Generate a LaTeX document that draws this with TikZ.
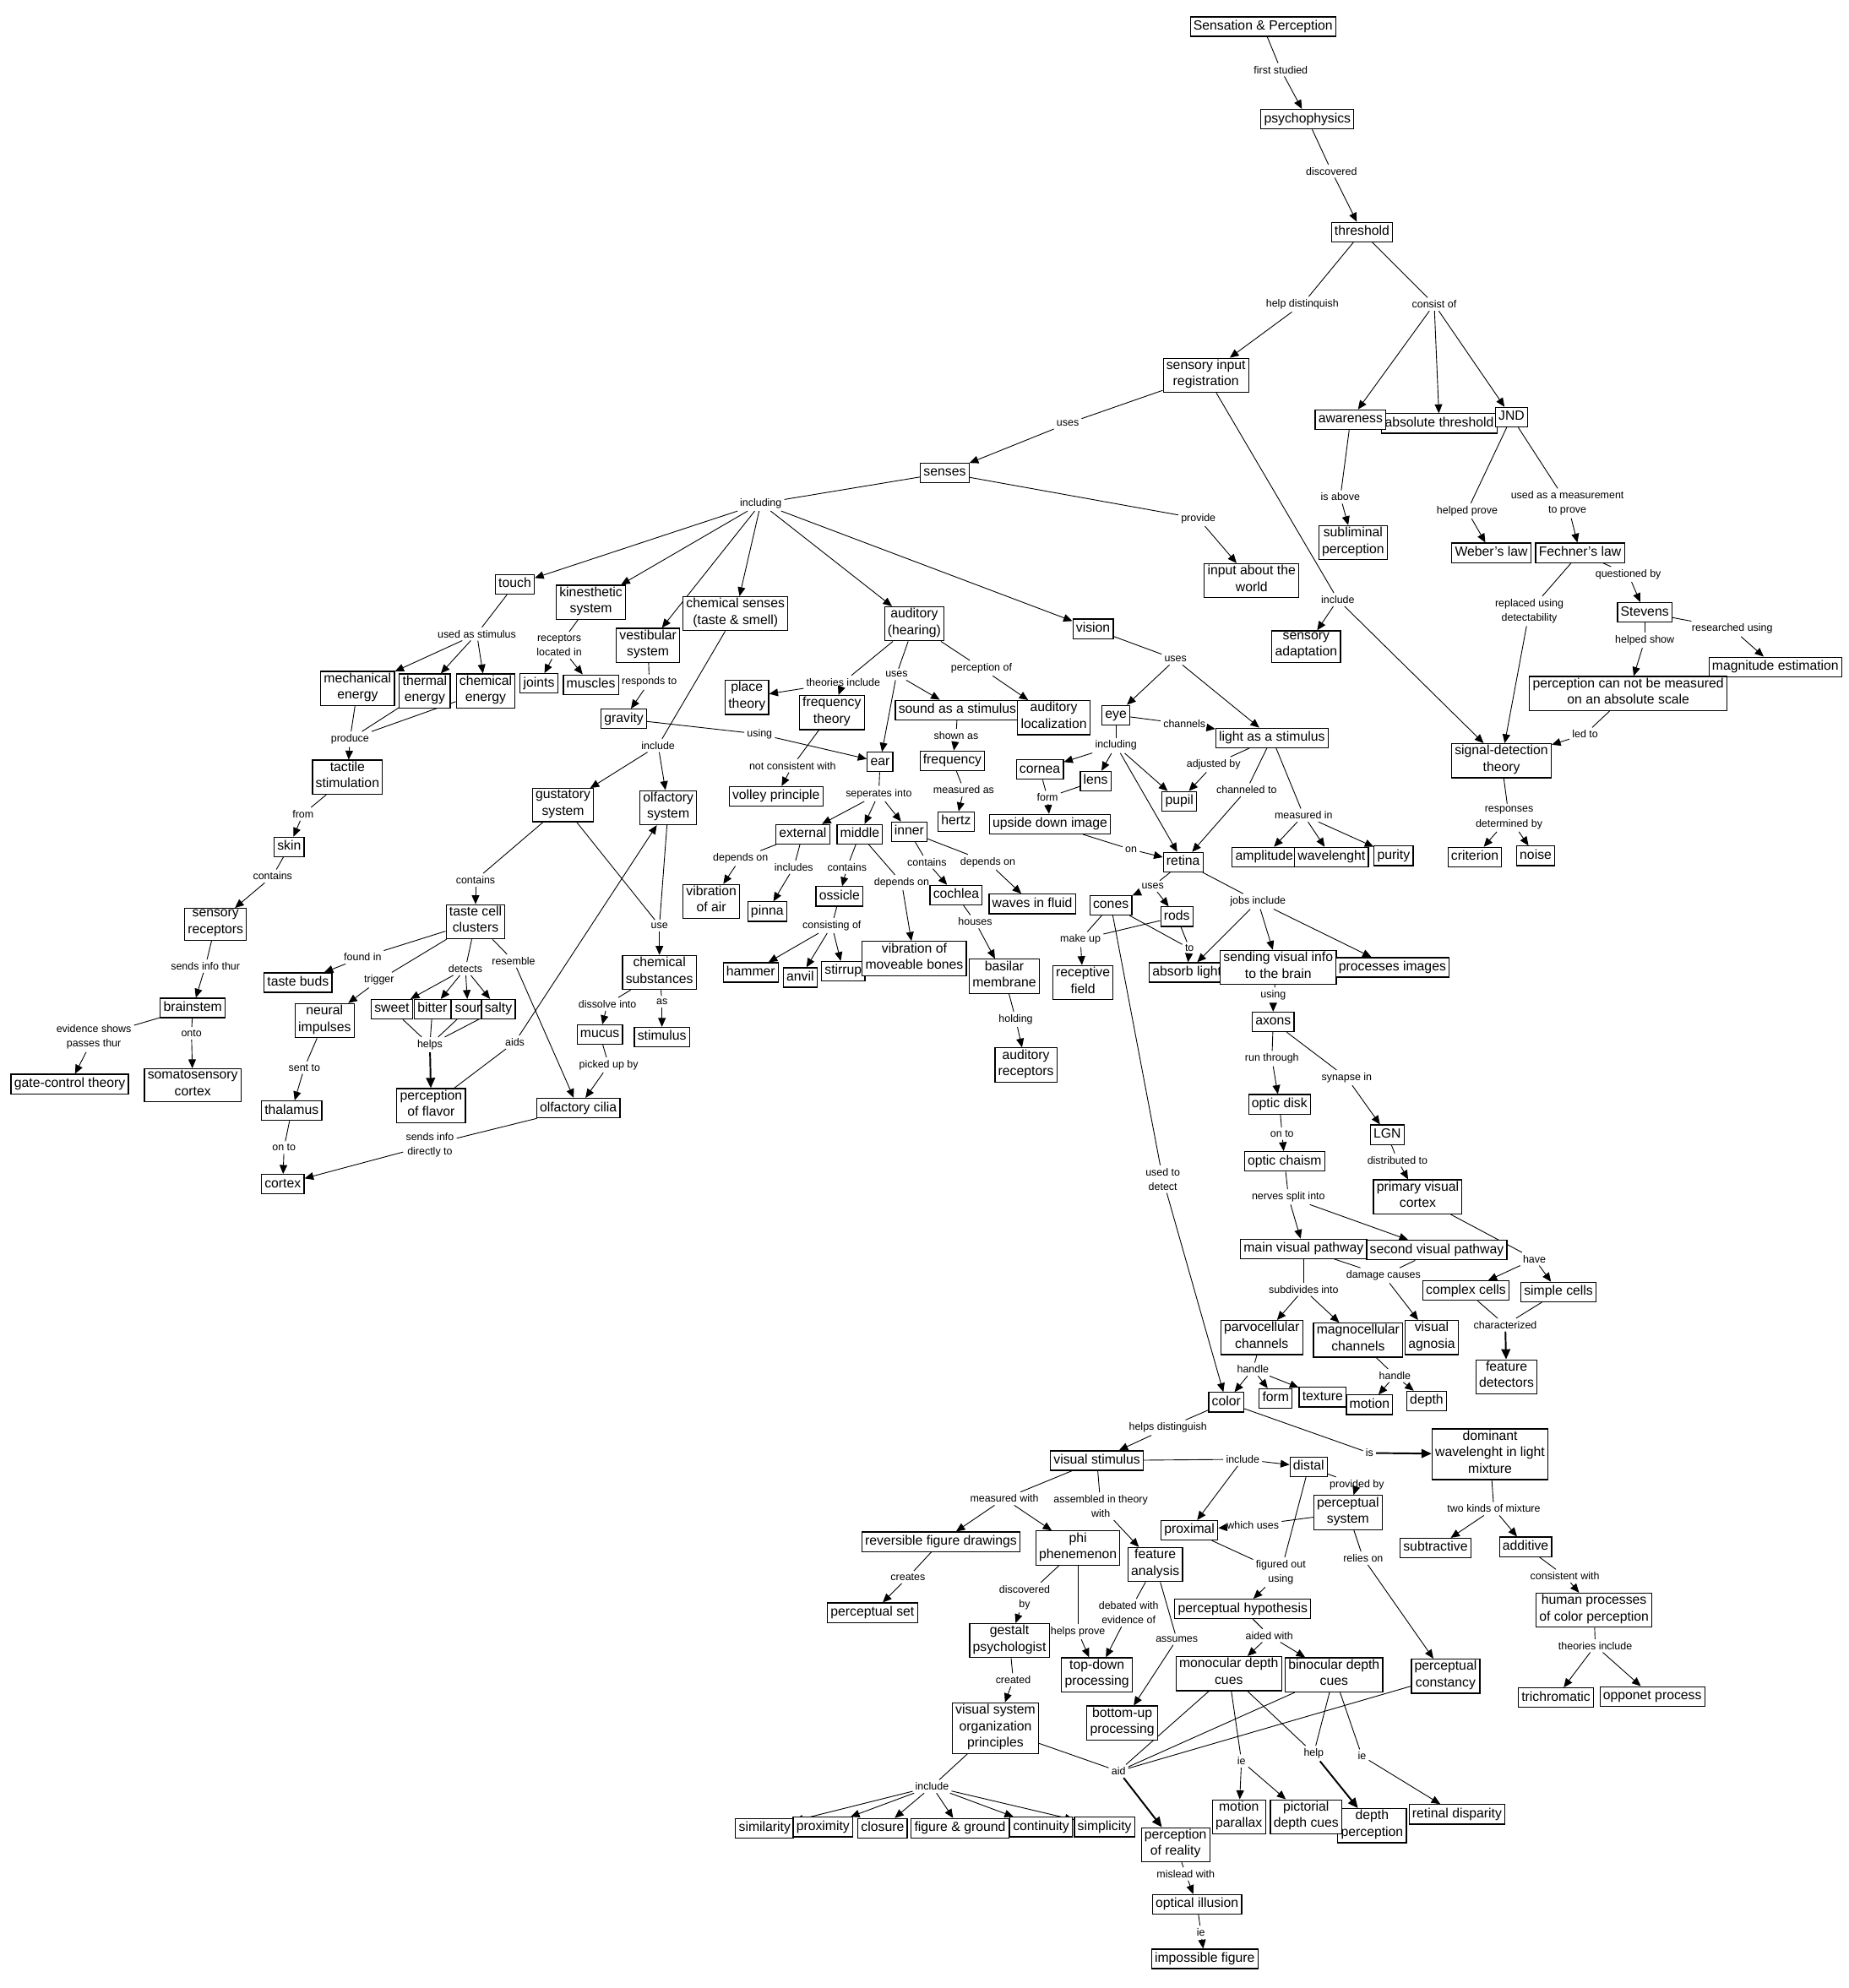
\documentclass[tikz,border=0pt]{standalone}
\usepackage{fontspec}
\setmainfont{Liberation Sans}
\usetikzlibrary{arrows.meta}
\pgfdeclarelayer{bg}
\pgfsetlayers{bg,main}
\tikzset{
  box/.style={draw, fill=white, line width=0.8pt, font=\fontsize{10.5}{13}\selectfont, align=center,
    inner xsep=2.5pt, inner ysep=1.2pt, execute at begin node=\strut, execute at end node=\strut},
  lbl/.style={font=\fontsize{8.3}{11.5}\selectfont, align=center, inner sep=2pt},
  ln/.style={line width=0.6pt},
  ar/.style={line width=0.6pt, -{Triangle[length=7pt,width=6pt]}},
  bar/.style={line width=1.3pt, -{Triangle[length=8pt,width=7pt]}},
}
\newcommand\cm[4][ar]{\foreach \s in {#2} {\draw[ln] (\s) -- (#3);}\foreach \t in {#4} {\draw[#1] (#3) -- (\t);}}
\begin{document}
\begin{tikzpicture}[x=1pt,y=-1pt]
\useasboundingbox (0,0) rectangle (1458,1568);
% ---------- concept boxes ----------
\node[box] (SP) at (996,21) {Sensation \& Perception};
\node[box] (psy) at (1031,94) {psychophysics};
\node[box] (thr) at (1074,183) {threshold};
\node[box] (sir) at (951,296) {sensory input\\registration};
\node[box] (abs) at (1135,334) {absolute threshold};
\node[box] (awa) at (1065,331) {awareness};
\node[box] (jnd) at (1192,329) {JND};
\node[box] (sen) at (745,373) {senses};
\node[box] (sub) at (1067,428) {subliminal\\perception};
\node[box] (web) at (1176,436) {Weber's law};
\node[box] (fec) at (1246,436) {Fechner's law};
\node[box] (inp) at (987,458) {input about the\\world};
\node[box] (tou) at (406,461) {touch};
\node[box] (kin) at (466,475) {kinesthetic\\system};
\node[box] (che) at (580,484) {chemical senses\\(taste \& smell)};
\node[box] (aud) at (721,492) {auditory\\(hearing)};
\node[box] (vis) at (862,496) {vision};
\node[box] (ves) at (511,509) {vestibular\\system};
\node[box] (ada) at (1030,510) {sensory\\adaptation};
\node[box] (ste) at (1297,483) {Stevens};
\node[box] (mag) at (1400,526) {magnitude estimation};
\node[box] (mec) at (282,543) {mechanical\\energy};
\node[box] (the) at (335,545) {thermal\\energy};
\node[box] (cen) at (383,545) {chemical\\energy};
\node[box] (joi) at (425,539) {joints};
\node[box] (mus) at (466,540) {muscles};
\node[box] (pcn) at (1284,547) {perception can not be measured\\on an absolute scale};
\node[box] (pla) at (589,550) {place\\theory};
\node[box] (fth) at (656,562) {frequency\\theory};
\node[box] (sou) at (755,560) {sound as a stimulus};
\node[box] (loc) at (831,566) {auditory\\localization};
\node[box] (gra) at (492,567) {gravity};
\node[box] (eye) at (880,564) {eye};
\node[box] (lig) at (1003,582) {light as a stimulus};
\node[box] (sdt) at (1184,600) {signal-detection\\theory};
\node[box] (tac) at (274,613) {tactile\\stimulation};
\node[box] (fre) at (751,600) {frequency};
\node[box] (ear) at (694,601) {ear};
\node[box] (cor) at (820,607) {cornea};
\node[box] (len) at (864,616) {lens};
\node[box] (pup) at (930,632) {pupil};
\node[box] (gus) at (444,635) {gustatory\\system};
\node[box] (olf) at (527,637) {olfactory\\system};
\node[box] (vol) at (612,628) {volley principle};
\node[box] (ups) at (828,650) {upside down image};
\node[box] (her) at (754,648) {hertz};
\node[box] (ext) at (633,658) {external};
\node[box] (mid) at (678,658) {middle};
\node[box] (inn) at (717,656) {inner};
\node[box] (ski) at (228,668) {skin};
\node[box] (amp) at (997,676) {amplitude};
\node[box] (wav) at (1050,676) {wavelenght};
\node[box] (pur) at (1099,675) {purity};
\node[box] (ret) at (933,680) {retina};
\node[box] (cri) at (1163,676) {criterion};
\node[box] (noi) at (1211,675) {noise};
\node[box] (voa) at (561,711) {vibration\\of air};
\node[box] (pin) at (605,719) {pinna};
\node[box] (oss) at (662,707) {ossicle};
\node[box] (coc) at (754,706) {cochlea};
\node[box] (wif) at (814,713) {waves in fluid};
\node[box] (con) at (876,714) {cones};
\node[box] (rod) at (928,723) {rods};
\node[box] (sre) at (170,729) {sensory\\receptors};
\node[box] (tcc) at (375,727) {taste cell\\clusters};
\node[box] (ham) at (592,767) {hammer};
\node[box] (anv) at (631,771) {anvil};
\node[box] (sti) at (665,766) {stirrup};
\node[box] (vmb) at (721,756) {vibration of\\moveable bones};
\node[box] (bas) at (792,770) {basilar\\membrane};
\node[box] (rec) at (854,775) {receptive\\field};
\node[box] (abl) at (936,767) {absorb light};
\node[box] (svi) at (1008,763) {sending visual info\\to the brain};
\node[box] (pim) at (1098,763) {processes images};
\node[box] (tbu) at (235,775) {taste buds};
\node[box] (csu) at (520,767) {chemical\\substances};
\node[box] (neu) at (256,805) {neural\\impulses};
\node[box] (swe) at (309,796) {sweet};
\node[box] (bit) at (341,796) {bitter};
\node[box] (sor) at (369,796) {sour};
\node[box] (sal) at (393,796) {salty};
\node[box] (bra) at (152,795) {brainstem};
\node[box] (axo) at (1004,806) {axons};
\node[box] (stm) at (522,818) {stimulus};
\node[box] (muc) at (473,816) {mucus};
\node[box] (are) at (809,840) {auditory\\receptors};
\node[box] (gct) at (55,855) {gate-control theory};
\node[box] (som) at (152,856) {somatosensory\\cortex};
\node[box] (pof) at (340,872) {perception\\of flavor};
\node[box] (oci) at (456,874) {olfactory cilia};
\node[box] (tha) at (230,876) {thalamus};
\node[box] (odi) at (1009,871) {optic disk};
\node[box] (lgn) at (1094,895) {LGN};
\node[box] (och) at (1013,916) {optic chaism};
\node[box] (ctx) at (223,934) {cortex};
\node[box] (pvc) at (1118,944) {primary visual\\cortex};
\node[box] (mvp) at (1028,985) {main visual pathway};
\node[box] (svp) at (1133,986) {second visual pathway};
\node[box] (cce) at (1156,1018) {complex cells};
\node[box] (sce) at (1229,1019) {simple cells};
\node[box] (par) at (995,1055) {parvocellular\\channels};
\node[box] (mgc) at (1071,1057) {magnocellular\\channels};
\node[box] (vag) at (1129,1055) {visual\\agnosia};
\node[box] (fde) at (1188,1086) {feature\\detectors};
\node[box] (for) at (1006,1103) {form};
\node[box] (tex) at (1043,1102) {texture};
\node[box] (mot) at (1080,1108) {motion};
\node[box] (dep) at (1125,1105) {depth};
\node[box] (col) at (967,1106) {color};
\node[box] (dom) at (1175,1147) {dominant\\wavelenght in light\\mixture};
\node[box] (vst) at (865,1152) {visual stimulus};
\node[box] (dis) at (1032,1157) {distal};
\node[box] (psys) at (1063,1193) {perceptual\\system};
\node[box] (sbt) at (1132,1221) {subtractive};
\node[box] (add) at (1203,1220) {additive};
\node[box] (pro) at (938,1207) {proximal};
\node[box] (rfd) at (742,1216) {reversible figure drawings};
\node[box] (phi) at (850,1221) {phi\\phenemenon};
\node[box] (fan) at (911,1234) {feature\\analysis};
\node[box] (phy) at (980,1269) {perceptual hypothesis};
\node[box] (hpc) at (1257,1270) {human processes\\of color perception};
\node[box] (pse) at (688,1272) {perceptual set};
\node[box] (ges) at (796,1294) {gestalt\\psychologist};
\node[box] (tdp) at (865,1321) {top-down\\processing};
\node[box] (mdc) at (969,1320) {monocular depth\\cues};
\node[box] (bdc) at (1052,1321) {binocular depth\\cues};
\node[box] (pco) at (1140,1322) {perceptual\\constancy};
\node[box] (tri) at (1227,1339) {trichromatic};
\node[box] (opp) at (1303,1338) {opponet process};
\node[box] (bup) at (885,1359) {bottom-up\\processing};
\node[box] (vso) at (785,1363) {visual system\\organization\\principles};
\node[box] (sim) at (603,1442) {similarity};
\node[box] (prx) at (649,1441) {proximity};
\node[box] (clo) at (696,1442) {closure};
\node[box] (fig) at (757,1442) {figure \& ground};
\node[box] (cnt) at (821,1441) {continuity};
\node[box] (smp) at (871,1441) {simplicity};
\node[box] (por) at (927,1455) {perception\\of reality};
\node[box] (dpe) at (1082,1440) {depth\\perception};
\node[box] (mpa) at (977,1433) {motion\\parallax};
\node[box] (pdc) at (1030,1433) {pictorial\\depth cues};
\node[box] (rdi) at (1149,1431) {retinal disparity};
\node[box] (oil) at (944,1502) {optical illusion};
\node[box] (imp) at (950,1545) {impossible figure};
% ---------- link labels ----------
\node[lbl] (Lfs) at (1010,55) {first studied};
\node[lbl] (Ldis) at (1050,135) {discovered};
\node[lbl] (Lhd) at (1027,240) {help distinquish};
\node[lbl] (Lco) at (1131,240) {consist of};
\node[lbl] (Luses1) at (842,334) {uses};
\node[lbl] (Linc1) at (600,397) {including};
\node[lbl] (Lprov) at (945,409) {provide};
\node[lbl] (Lia) at (1057,392) {is above};
\node[lbl] (Lhp) at (1157,403) {helped prove};
\node[lbl] (Luam) at (1236,397) {used as a measurement\\to prove};
\node[lbl] (Linc2) at (1055,473) {include};
\node[lbl] (Lqb) at (1284,453) {questioned by};
\node[lbl] (Lrud) at (1206,482) {replaced using\\detectability};
\node[lbl] (Lru) at (1366,496) {researched using};
\node[lbl] (Lhs) at (1297,505) {helped show};
\node[lbl] (Luas) at (376,500) {used as stimulus};
\node[lbl] (Lrli) at (441,509) {receptors\\located in};
\node[lbl] (Lrt) at (512,538) {responds to};
\node[lbl] (Lti) at (665,538) {theories include};
\node[lbl] (Luses2) at (707,532) {uses};
\node[lbl] (Lpo) at (774,527) {perception of};
\node[lbl] (Luses3) at (927,520) {uses};
\node[lbl] (Lprod) at (276,583) {produce};
\node[lbl] (Lusing1) at (599,579) {using};
\node[lbl] (Linc3) at (519,588) {include};
\node[lbl] (Lsa) at (754,580) {shown as};
\node[lbl] (Lch) at (934,571) {channels};
\node[lbl] (Linc4) at (880,588) {including};
\node[lbl] (Lab) at (957,603) {adjusted by};
\node[lbl] (Lcht) at (983,623) {channeled to};
\node[lbl] (Lled) at (1250,579) {led to};
\node[lbl] (Lncw) at (625,604) {not consistent with};
\node[lbl] (Lma) at (760,623) {measured as};
\node[lbl] (Lform) at (826,629) {form};
\node[lbl] (Lsi) at (693,626) {seperates into};
\node[lbl] (Lon) at (892,670) {on};
\node[lbl] (Lmi) at (1028,643) {measured in};
\node[lbl] (Lrdb) at (1190,645) {responses\\determined by};
\node[lbl] (Lfrom) at (239,642) {from};
\node[lbl] (Lcont1) at (215,691) {contains};
\node[lbl] (Ldo1) at (584,677) {depends on};
\node[lbl] (Lincs) at (626,684) {includes};
\node[lbl] (Lcont2) at (668,684) {contains};
\node[lbl] (Lcont3) at (731,680) {contains};
\node[lbl] (Ldo2) at (779,680) {depends on};
\node[lbl] (Ldo3) at (711,696) {depends on};
\node[lbl] (Luses4) at (909,699) {uses};
\node[lbl] (Lji) at (992,711) {jobs include};
\node[lbl] (Lcont4) at (375,694) {contains};
\node[lbl] (Luse) at (520,730) {use};
\node[lbl] (Lcof) at (656,730) {consisting of};
\node[lbl] (Lhou) at (769,727) {houses};
\node[lbl] (Lmu) at (852,741) {make up};
\node[lbl] (Lto) at (938,748) {to};
\node[lbl] (Lsit) at (162,762) {sends info thur};
\node[lbl] (Lfi) at (286,755) {found in};
\node[lbl] (Ltrig) at (299,773) {trigger};
\node[lbl] (Ldet) at (367,764) {detects};
\node[lbl] (Lres) at (405,758) {resemble};
\node[lbl] (Las) at (522,790) {as};
\node[lbl] (Ldi) at (479,792) {dissolve into};
\node[lbl] (Lusing2) at (1004,785) {using};
\node[lbl] (Lesp) at (74,818) {evidence shows\\passes thur};
\node[lbl] (Lonto) at (151,815) {onto};
\node[lbl] (Lhelps) at (339,824) {helps};
\node[lbl] (Laids) at (406,822) {aids};
\node[lbl] (Lhold) at (801,804) {holding};
\node[lbl] (Lpub) at (480,840) {picked up by};
\node[lbl] (Lrth) at (1003,835) {run through};
\node[lbl] (Lsyn) at (1062,850) {synapse in};
\node[lbl] (Lsent) at (240,842) {sent to};
\node[lbl] (Lonto2) at (224,905) {on to};
\node[lbl] (Lsid) at (339,903) {sends info\\directly to};
\node[lbl] (Lonto3) at (1011,894) {on to};
\node[lbl] (Ldt) at (1102,915) {distributed to};
\node[lbl] (Lutd) at (917,930) {used to\\detect};
\node[lbl] (Lnsi) at (1016,944) {nerves split into};
\node[lbl] (Lhave) at (1210,993) {have};
\node[lbl] (Ldc) at (1091,1006) {damage causes};
\node[lbl] (Lsubd) at (1028,1017) {subdivides into};
\node[lbl] (Lchar) at (1187,1045) {characterized};
\node[lbl] (Lhan1) at (988,1080) {handle};
\node[lbl] (Lhan2) at (1100,1085) {handle};
\node[lbl] (Lhdi) at (921,1126) {helps distinguish};
\node[lbl] (Lis) at (1080,1146) {is};
\node[lbl] (Linc5) at (980,1151) {include};
\node[lbl] (Lmw) at (792,1182) {measured with};
\node[lbl] (Lait) at (868,1188) {assembled in theory\\with};
\node[lbl] (Lpb) at (1070,1171) {provided by};
\node[lbl] (Ltkm) at (1178,1190) {two kinds of mixture};
\node[lbl] (Lwu) at (988,1203) {which uses};
\node[lbl] (Lcre) at (716,1244) {creates};
\node[lbl] (Lfou) at (1010,1240) {figured out\\using};
\node[lbl] (Lro) at (1075,1229) {relies on};
\node[lbl] (Lcw) at (1234,1243) {consistent with};
\node[lbl] (Ldb) at (808,1260) {discovered\\by};
\node[lbl] (Ldwe) at (890,1272) {debated with\\evidence of};
\node[lbl] (Lhpr) at (850,1287) {helps prove};
\node[lbl] (Lass) at (928,1293) {assumes};
\node[lbl] (Law) at (1001,1290) {aided with};
\node[lbl] (Lti2) at (1258,1298) {theories include};
\node[lbl] (Lcrd) at (799,1325) {created};
\node[lbl] (Lhelp) at (1036,1383) {help};
\node[lbl] (Lie1) at (979,1389) {ie};
\node[lbl] (Lie2) at (1074,1385) {ie};
\node[lbl] (Laid) at (882,1397) {aid};
\node[lbl] (Linc6) at (735,1409) {include};
\node[lbl] (Lmlw) at (935,1478) {mislead with};
\node[lbl] (Lie3) at (947,1524) {ie};
% ---------- connectors ----------
\begin{pgfonlayer}{bg}
\fill[white] (0,0) rectangle (1458,1568);
\cm{SP}{Lfs}{psy}
\cm{psy}{Ldis}{thr}
\cm{thr}{Lhd}{sir}
\cm{thr}{Lco}{awa,abs,jnd}
\cm{sir}{Luses1}{sen}
\cm{sir}{Linc2}{ada,sdt}
\cm{awa}{Lia}{sub}
\cm{jnd}{Lhp}{web}
\cm{jnd}{Luam}{fec}
\cm{fec}{Lqb}{ste}
\cm{fec}{Lrud}{sdt}
\cm{ste}{Lru}{mag}
\cm{ste}{Lhs}{pcn}
\cm{pcn}{Lled}{sdt}
\cm{sdt}{Lrdb}{cri,noi}
\cm{sen}{Linc1}{tou,kin,ves,che,aud,vis}
\cm{sen}{Lprov}{inp}
\cm{tou}{Luas}{mec,the,cen}
\cm{kin}{Lrli}{joi,mus}
\cm{ves}{Lrt}{gra}
\cm{mec,the,cen}{Lprod}{tac}
\cm{tac}{Lfrom}{ski}
\cm{ski}{Lcont1}{sre}
\cm{sre}{Lsit}{bra}
\cm{bra}{Lesp}{gct}
\cm{bra}{Lonto}{som}
\cm{che}{Linc3}{gus,olf}
\cm{gus}{Lcont4}{tcc}
\cm{gus,olf}{Luse}{csu}
\cm{csu}{Las}{stm}
\cm{csu}{Ldi}{muc}
\cm{muc}{Lpub}{oci}
\cm{oci}{Lsid}{ctx}
\cm{tcc}{Lfi}{tbu}
\cm{tcc}{Ltrig}{neu}
\cm{tcc}{Ldet}{swe,bit,sor,sal}
\cm{tcc}{Lres}{oci}
\cm[bar]{swe,bit,sor,sal}{Lhelps}{pof}
\cm{pof}{Laids}{olf}
\cm{neu}{Lsent}{tha}
\cm{tha}{Lonto2}{ctx}
\cm{aud}{Lti}{pla,fth}
\cm{aud}{Luses2}{ear,sou}
\cm{aud}{Lpo}{loc}
\cm{gra}{Lusing1}{ear}
\cm{fth}{Lncw}{vol}
\cm{sou}{Lsa}{fre}
\cm{fre}{Lma}{her}
\cm{ear}{Lsi}{ext,mid,inn}
\cm{ext}{Ldo1}{voa}
\cm{ext}{Lincs}{pin}
\cm{mid}{Lcont2}{oss}
\cm{mid}{Ldo3}{vmb}
\cm{inn}{Lcont3}{coc}
\cm{inn}{Ldo2}{wif}
\cm{oss}{Lcof}{ham,anv,sti}
\cm{coc}{Lhou}{bas}
\cm{bas}{Lhold}{are}
\cm{vis}{Luses3}{eye,lig}
\cm{eye}{Lch}{lig}
\cm{eye}{Linc4}{cor,len,pup,ret}
\cm{lig}{Lab}{pup}
\cm{lig}{Lcht}{ret}
\cm{lig}{Lmi}{amp,wav,pur}
\cm{cor,len}{Lform}{ups}
\cm{ups}{Lon}{ret}
\cm{ret}{Luses4}{con,rod}
\cm{ret}{Lji}{abl,svi,pim}
\cm{con,rod}{Lmu}{rec}
\cm{con,rod}{Lto}{abl}
\cm{con}{Lutd}{col}
\cm{svi}{Lusing2}{axo}
\cm{axo}{Lrth}{odi}
\cm{axo}{Lsyn}{lgn}
\cm{odi}{Lonto3}{och}
\cm{lgn}{Ldt}{pvc}
\cm{och}{Lnsi}{mvp,svp}
\cm{pvc}{Lhave}{cce,sce}
\cm{mvp,svp}{Ldc}{vag}
\cm{mvp}{Lsubd}{par,mgc}
\cm[bar]{cce,sce}{Lchar}{fde}
\cm{par}{Lhan1}{col,for,tex}
\cm{mgc}{Lhan2}{mot,dep}
\cm{col}{Lhdi}{vst}
\cm[bar]{col}{Lis}{dom}
\cm{vst}{Linc5}{dis,pro}
\cm{vst}{Lmw}{rfd,phi}
\cm{vst}{Lait}{fan}
\cm{dis}{Lpb}{psys}
\cm{psys}{Lwu}{pro}
\cm{pro,dis}{Lfou}{phy}
\cm{psys}{Lro}{pco}
\cm{dom}{Ltkm}{sbt,add}
\cm{add}{Lcw}{hpc}
\cm{hpc}{Lti2}{tri,opp}
\cm{rfd}{Lcre}{pse}
\cm{phi}{Ldb}{ges}
\cm{phi}{Lhpr}{tdp}
\cm{fan}{Ldwe}{tdp}
\cm{fan}{Lass}{bup}
\cm{phy}{Law}{mdc,bdc}
\cm{ges}{Lcrd}{vso}
\cm{vso}{Linc6}{sim,prx,clo,fig,cnt,smp}
\cm[bar]{vso,mdc,bdc,pco}{Laid}{por}
\cm{mdc}{Lie1}{mpa,pdc}
\cm{bdc}{Lie2}{rdi}
\cm[bar]{mdc,bdc}{Lhelp}{dpe}
\cm{por}{Lmlw}{oil}
\cm{oil}{Lie3}{imp}
\end{pgfonlayer}
\end{tikzpicture}
\end{document}
